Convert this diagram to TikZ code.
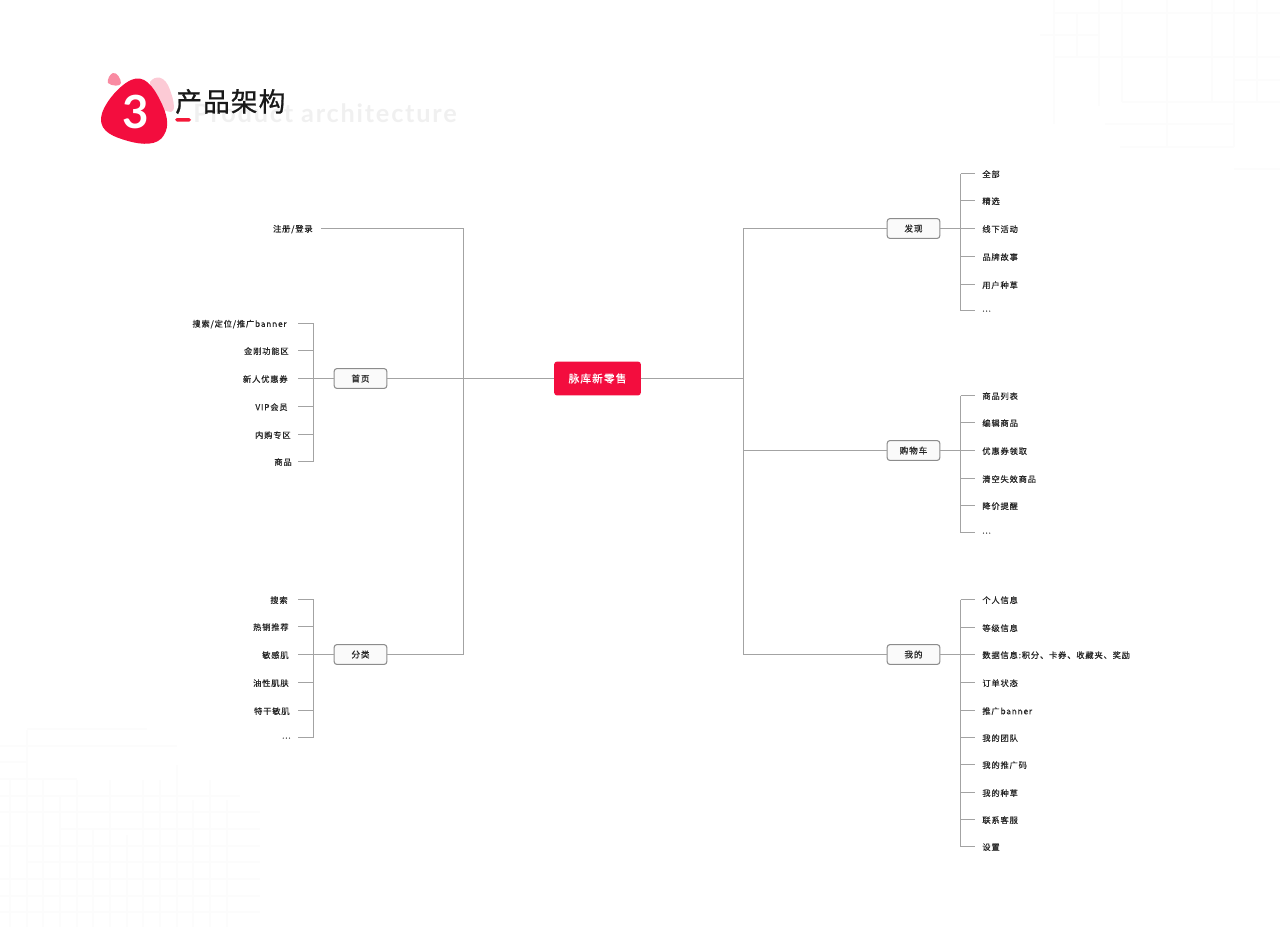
\documentclass[tikz,border=0pt]{standalone}
\usepackage{fontspec}
\setmainfont{Noto Sans CJK SC}
\newfontfamily\leaffont[LetterSpace=10,FakeBold=0.6]{Noto Sans CJK SC}
\newfontfamily\titlefont[LetterSpace=4,FakeBold=0.8]{Noto Sans CJK SC}
\newfontfamily\ghostfont[LetterSpace=7]{Lato}
\newfontfamily\digitfont{Lato}
\definecolor{brandred}{HTML}{F30D3E}
\definecolor{linegray}{HTML}{A3A3A3}
\definecolor{faintgray}{HTML}{FCFCFC}
\def\moredots{...}
\tikzset{
  link/.style={draw=linegray,line width=.8pt},
  faint/.style={draw=faintgray,line width=.6pt},
  leaf/.style={inner sep=0pt,yshift=-.35pt,text=black!85,font=\leaffont\fontsize{4.7}{5}\selectfont},
  boxnode/.style={draw=black!45,fill=black!2,rounded corners=1.6pt,line width=.6pt,inner sep=0pt,
    minimum width=30pt,minimum height=11.3pt,text=black!85,font=\leaffont\fontsize{4.9}{5}\selectfont},
  rootnode/.style={fill=brandred,rounded corners=1.6pt,inner sep=0pt,minimum width=49.3pt,
    minimum height=19.3pt,text=white,font=\leaffont\fontsize{6.1}{7}\selectfont}
}
\begin{document}
\begin{tikzpicture}[x=0.02cm,y=-0.02cm]
  \useasboundingbox (0,0) rectangle (1280,927);
  % background grids
  \foreach \x/\ya/\yb in {1054/0/124,1077/13/57,1099/0/106,1122/0/102,1167/0/147,1212/0/102,1234/0/147,1257/0/102}
    \draw[faint] (\x,\ya) -- (\x,\yb);
  \foreach \y/\xa/\xb in {13/1054/1280,35/1040/1099,57/1054/1280,80/1234/1280,102/1122/1280,124/1105/1234,147/1120/1234,169/1234/1280}
    \draw[faint] (\xa,\y) -- (\xb,\y);
  \foreach \x/\ya in {10/780,27/730,43/780,60/795,77/780,93/830,110/780,127/835,143/780,160/780,177/765,193/800,210/780,227/800}
    \draw[faint] (\x,\ya) -- (\x,927);
  \foreach \y/\xa/\xb in {729/27/147,746/0/177,762/0/27,779/0/77,796/0/240,812/0/260,829/60/260,846/0/260,862/27/260,879/0/260,896/0/260,912/0/260}
    \draw[faint] (\xa,\y) -- (\xb,\y);
  % title
  \node[text=black!6,anchor=west,inner sep=0pt,font=\ghostfont\bfseries\fontsize{14.4}{16}\selectfont] (ghost) at (193,113) {Product architecture};
  \fill[brandred!22] (150,82) .. controls (155,75) and (165,75) .. (170,90) .. controls (175,103) and (175,112) .. (171,112) .. controls (166,112) and (160,108) .. (150,100) -- cycle;
  \fill[brandred!48] (113,73) .. controls (117,72) and (121,79) .. (121,83) .. controls (121,87) and (111,86) .. (108,83) .. controls (107,79) and (110,74) .. (113,73) -- cycle;
  \fill[brandred] (131,80) .. controls (144,74) and (153,86) .. (160,100) .. controls (167,114) and (170,125) .. (164,135)
    .. controls (158,146) and (142,145) .. (128,141) .. controls (114,137) and (100,132) .. (101,118)
    .. controls (102,106) and (118,86) .. (131,80) -- cycle;
  \node[text=white,inner sep=0pt,font=\digitfont\bfseries\fontsize{26}{28}\selectfont] (num) at (136,112) {3};
  \node[text=black!90,anchor=west,inner sep=0pt,font=\titlefont\fontsize{15.2}{16}\selectfont] (title) at (175,101.5) {产品架构};
  \fill[brandred!90!orange,rounded corners=1pt] (175,118) rectangle (191,121.5);
  % center
  \node[rootnode] (root) at (597.5,378.5) {脉库新零售};
  % left side
  \node[boxnode] (home) at (360.5,378.5) {首页};
  \node[boxnode] (sort) at (360.5,654.5) {分类};
  \node[leaf,anchor=east] (login) at (313,228.5) {注册/登录};
  \foreach \i/\x/\y/\txt in {1/287/323.5/{搜索/定位/推广banner},2/289/350.5/金刚功能区,3/288/378.5/新人优惠券,4/288/406.5/VIP会员,5/291/434.5/内购专区,6/292/461.5/商品}{
    \node[leaf,anchor=east] (home\i) at (\x,\y) {\txt};
    \coordinate (hometick\i) at (298,\y);
    \coordinate (homebar\i) at (313.5,\y);
    \draw[link] (hometick\i) -- (homebar\i);
  }
  \foreach \i/\x/\y/\txt in {1/288/599.5/搜索,2/289/626.5/热销推荐,3/289/654.5/敏感肌,4/289/682.5/油性肌肤,5/290/710.5/特干敏肌,6/291/737.5/\moredots}{
    \node[leaf,anchor=east] (sort\i) at (\x,\y) {\txt};
    \coordinate (sorttick\i) at (298,\y);
    \coordinate (sortbar\i) at (313.5,\y);
    \draw[link] (sorttick\i) -- (sortbar\i);
  }
  \draw[link] (homebar1) -- (homebar6);
  \draw[link] (sortbar1) -- (sortbar6);
  \draw[link] (home) -- (homebar3);
  \draw[link] (sort) -- (sortbar3);
  \coordinate (loginend) at (321,228.5);
  \coordinate (ltop) at (463.5,228.5);
  \coordinate (lbot) at (463.5,654.5);
  \draw[link] (loginend) -- (ltop) -- (lbot) -- (sort);
  \draw[link] (home) -- (root);
  % right side
  \node[boxnode] (find) at (913.5,228.5) {发现};
  \node[boxnode] (cart) at (913.5,450.5) {购物车};
  \node[boxnode] (mine) at (913.5,654.5) {我的};
  \foreach \i/\y/\txt in {1/173.5/全部,2/200.5/精选,3/228.5/线下活动,4/256.5/品牌故事,5/284.5/用户种草,6/310.5/\moredots}{
    \node[leaf,anchor=west] (find\i) at (982,\y) {\txt};
    \coordinate (findtick\i) at (975,\y);
    \coordinate (findbar\i) at (960.5,\y);
    \draw[link] (findbar\i) -- (findtick\i);
  }
  \foreach \i/\y/\txt in {1/395.5/商品列表,2/422.5/编辑商品,3/450.5/优惠券领取,4/478.5/清空失效商品,5/505.5/降价提醒,6/532.5/\moredots}{
    \node[leaf,anchor=west] (cart\i) at (982,\y) {\txt};
    \coordinate (carttick\i) at (975,\y);
    \coordinate (cartbar\i) at (960.5,\y);
    \draw[link] (cartbar\i) -- (carttick\i);
  }
  \foreach \i/\y/\txt in {1/599.5/个人信息,2/627.5/等级信息,3/654.5/{数据信息:积分、卡券、收藏夹、奖励},4/682.5/订单状态,5/710.5/推广banner,6/737.5/我的团队,7/764.5/我的推广码,8/792.5/我的种草,9/819.5/联系客服,10/846.5/设置}{
    \node[leaf,anchor=west] (mine\i) at (982,\y) {\txt};
    \coordinate (minetick\i) at (975,\y);
    \coordinate (minebar\i) at (960.5,\y);
    \draw[link] (minebar\i) -- (minetick\i);
  }
  \draw[link] (findbar1) -- (findbar6);
  \draw[link] (cartbar1) -- (cartbar6);
  \draw[link] (minebar1) -- (minebar10);
  \draw[link] (find) -- (findbar3);
  \draw[link] (cart) -- (cartbar3);
  \draw[link] (mine) -- (minebar3);
  \coordinate (rtop) at (743.5,228.5);
  \coordinate (rmid) at (743.5,378.5);
  \coordinate (rcart) at (743.5,450.5);
  \coordinate (rbot) at (743.5,654.5);
  \draw[link] (find) -- (rtop) -- (rbot) -- (mine);
  \draw[link] (root) -- (rmid);
  \draw[link] (rcart) -- (cart);
\end{tikzpicture}
\end{document}
